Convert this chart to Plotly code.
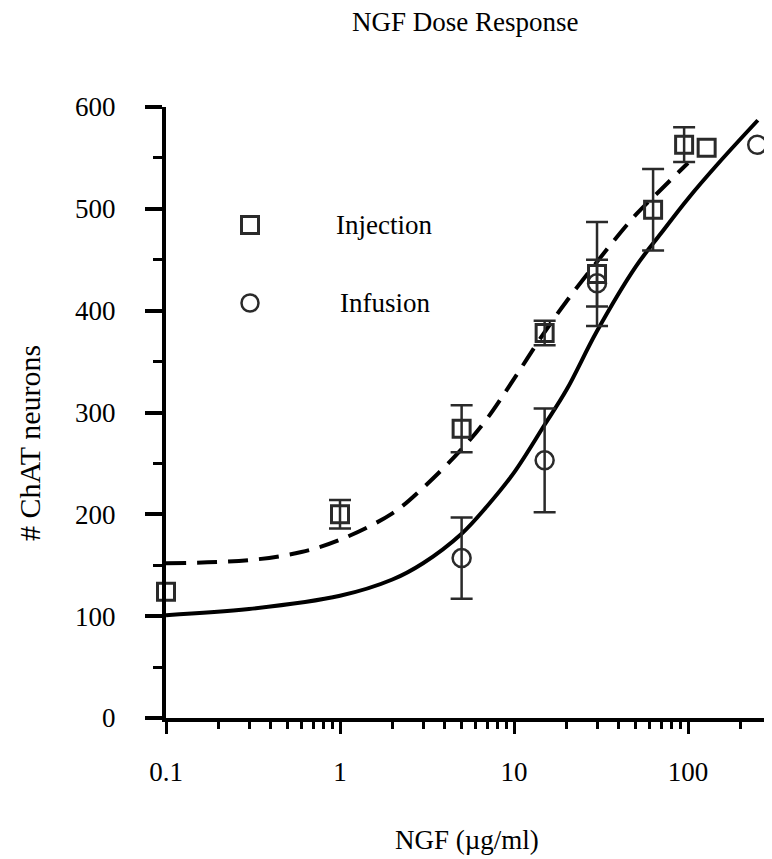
import plotly.graph_objects as go

# ---- data ----
inj_x = [0.1, 1, 5, 15, 30, 63, 95, 128]
inj_y = [124, 200, 284, 378, 436, 499, 563, 560]
inj_err = [None, 14, 23, 12, 51, 40, 17, None]

inf_x = [5, 15, 30, 250]
inf_y = [157, 253, 427, 563]
inf_err = [40, 51, 23, None]

# fitted curves
inj_fit_x = [0.1, 0.3, 0.6, 1, 2, 3, 5, 7, 10, 15, 20, 30, 50, 70, 100]
inj_fit_y = [152, 155, 163, 175, 201, 226, 264, 294, 333, 379, 409, 448, 494, 519, 545]

inf_fit_x = [0.1, 0.3, 1, 2, 3, 5, 7, 10, 15, 20, 30, 50, 70, 100, 150, 252]
inf_fit_y = [101, 107, 120, 136, 152, 181, 208, 241, 288, 322, 380, 443, 476, 510, 545, 587]

x_major = [0.1, 1, 10, 100]
x_major_text = ["0.1", "1", "10", "100"]
x_minor = [m * d for d in (0.1, 1, 10, 100) for m in range(2, 10)]
y_major = [0, 100, 200, 300, 400, 500, 600]
y_minor = [50, 150, 250, 350, 450, 550]

title_text = "NGF Dose Response"
x_title = "NGF (\u00b5g/ml)"
y_title = "# ChAT neurons"
legend_names = ["Injection", "Infusion"]

FONT = "Liberation Serif"
INK = "#2a2a2a"
FS = 27

# the page body adds an 8px margin around the figure
OFF = 8
W, H = 772 - OFF, 859 - OFF
L, R, T = 166 - OFF, 0, 107 - OFF
B = H - (718 - OFF)
PW, PH = W - L - R, H - T - B


def px2paper(sx, sy):
    """screen pixel in the reference -> paper coords"""
    fx, fy = sx - OFF, sy - OFF
    return (fx - L) / PW, (H - B - fy) / PH


def split(xs, ys, es):
    with_e = [(x, y, e) for x, y, e in zip(xs, ys, es) if e is not None]
    without = [(x, y) for x, y, e in zip(xs, ys, es) if e is None]
    return with_e, without


fig = go.Figure()

fig.add_trace(go.Scatter(x=inj_fit_x, y=inj_fit_y, mode="lines", line_shape="spline",
                         line=dict(color="black", width=4, dash="20px,11px"),
                         showlegend=False, hoverinfo="skip", cliponaxis=False))
fig.add_trace(go.Scatter(x=inf_fit_x, y=inf_fit_y, mode="lines", line_shape="spline",
                         line=dict(color="black", width=4),
                         showlegend=False, hoverinfo="skip", cliponaxis=False))

sq = dict(symbol="square-open", size=17, color=INK, line=dict(width=3, color=INK))
ci = dict(symbol="circle-open", size=18, color=INK, line=dict(width=2.5, color=INK))

for (xs, ys, es), mk, nm in [((inj_x, inj_y, inj_err), sq, legend_names[0]),
                             ((inf_x, inf_y, inf_err), ci, legend_names[1])]:
    we, wo = split(xs, ys, es)
    if we:
        fig.add_trace(go.Scatter(x=[p[0] for p in we], y=[p[1] for p in we], mode="markers", name=nm,
                                 marker=mk,
                                 error_y=dict(type="data", array=[p[2] for p in we], visible=True,
                                              thickness=2.5, width=11, color=INK),
                                 showlegend=False, cliponaxis=False))
    if wo:
        fig.add_trace(go.Scatter(x=[p[0] for p in wo], y=[p[1] for p in wo], mode="markers", name=nm,
                                 marker=mk, showlegend=False, cliponaxis=False))

fig.update_xaxes(type="log", range=[-1, -1 + PW / 174.0],
                 showline=True, linecolor="black", linewidth=4,
                 tickvals=x_major, ticktext=x_major_text, ticks="outside",
                 ticklen=12, tickwidth=3, tickcolor="black",
                 ticklabelstandoff=15,
                 minor=dict(tickvals=x_minor, ticks="outside", ticklen=7, tickwidth=3, tickcolor="black", showgrid=False),
                 showgrid=False, zeroline=False,
                 tickfont=dict(family=FONT, size=FS, color="black"))
fig.update_yaxes(range=[0, 600],
                 showline=True, linecolor="black", linewidth=4,
                 tickvals=y_major, ticks="outside", ticklen=17, tickwidth=3.5, tickcolor="black",
                 ticklabelstandoff=24,
                 minor=dict(tickvals=y_minor, ticks="outside", ticklen=9, tickwidth=3, tickcolor="black", showgrid=False),
                 showgrid=False, zeroline=False,
                 tickfont=dict(family=FONT, size=FS, color="black"))

# legend drawn by hand
shapes = []
sx, sy = px2paper(250, 225)
hw, hh = 8.5 / PW, 8.5 / PH
shapes.append(dict(type="rect", xref="paper", yref="paper", x0=sx - hw, x1=sx + hw, y0=sy - hh, y1=sy + hh,
                   line=dict(color=INK, width=3)))
cx, cy = px2paper(250, 303)
shapes.append(dict(type="circle", xref="paper", yref="paper", x0=cx - hw, x1=cx + hw, y0=cy - hh, y1=cy + hh,
                   line=dict(color=INK, width=2.5)))

annotations = []
for name, (px, py) in zip(legend_names, [(384, 225), (385, 303)]):
    ax, ay = px2paper(px, py)
    annotations.append(dict(text=name, x=ax, y=ay, xref="paper", yref="paper", showarrow=False,
                            xanchor="center", yanchor="middle", font=dict(family=FONT, size=FS, color="black")))
tx, ty = px2paper(465, 22)
annotations.append(dict(text=title_text, x=tx, y=ty, xref="paper", yref="paper", showarrow=False,
                        xanchor="center", yanchor="middle", font=dict(family=FONT, size=FS, color="black")))
xx, xy = px2paper(467, 840)
annotations.append(dict(text=x_title, x=xx, y=xy, xref="paper", yref="paper", showarrow=False,
                        xanchor="center", yanchor="middle", font=dict(family=FONT, size=FS, color="black")))
yx, yy = px2paper(29, 443)
annotations.append(dict(text=y_title, x=yx, y=yy, xref="paper", yref="paper", showarrow=False, textangle=-90,
                        xanchor="center", yanchor="middle", font=dict(family=FONT, size=30, color="black")))

fig.update_layout(width=W, height=H, margin=dict(l=L, r=R, t=T, b=B, pad=0),
                  plot_bgcolor="white", paper_bgcolor="white",
                  shapes=shapes, annotations=annotations, showlegend=False)

fig.write_html("out.html")
